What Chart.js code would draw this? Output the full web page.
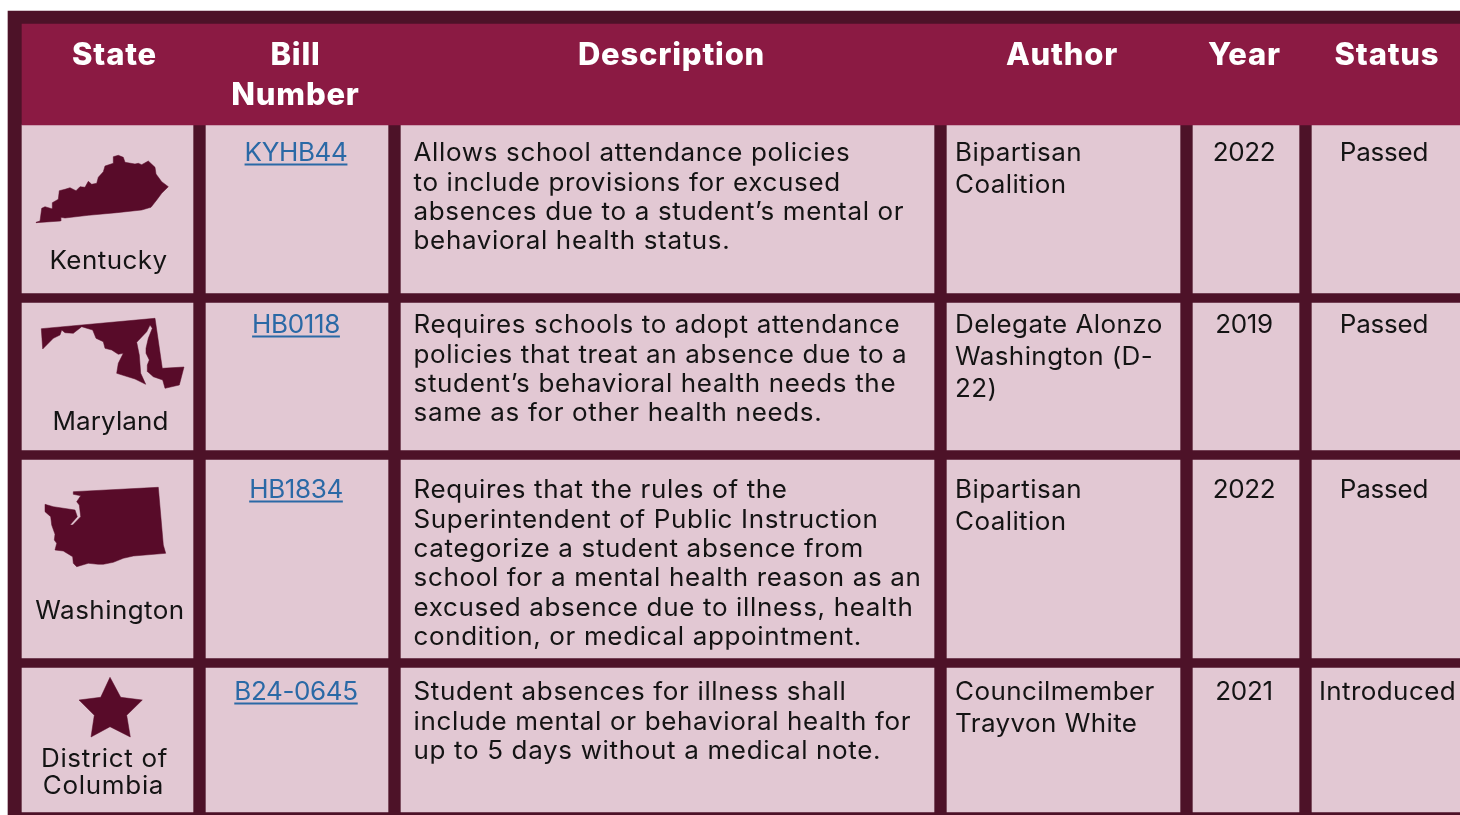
<!DOCTYPE html>
<html>
<head>
<meta charset="utf-8">
<title>State bills</title>
<script src="https://cdn.jsdelivr.net/npm/chart.js@4"></script>
<style>
html, body { margin: 0; padding: 0; background: #fff; }
canvas { display: block; }
</style>
</head>
<body>
<canvas id="tableChart" width="1460" height="815"></canvas>
<script>
// table content
const headers = [["State"], ["Bill", "Number"], ["Description"], ["Author"], ["Year"], ["Status"]];
const states = [["Kentucky"], ["Maryland"], ["Washington"], ["District of", "Columbia"]];
const billNumbers = ["KYHB44", "HB0118", "HB1834", "B24-0645"];
const descriptions = [
    ["Allows school attendance policies", "to include provisions for excused", "absences due to a student\u2019s mental or", "behavioral health status."],
    ["Requires schools to adopt attendance", "policies that treat an absence due to a", "student\u2019s behavioral health needs the", "same as for other health needs."],
    ["Requires that the rules of the", "Superintendent of Public Instruction", "categorize a student absence from", "school for a mental health reason as an", "excused absence due to illness, health", "condition, or medical appointment."],
    ["Student absences for illness shall", "include mental or behavioral health for", "up to 5 days without a medical note."]
];
const authors = [["Bipartisan", "Coalition"], ["Delegate Alonzo", "Washington (D-", "22)"], ["Bipartisan", "Coalition"], ["Councilmember", "Trayvon White"]];
const years = ["2022", "2019", "2022", "2021"];
const statuses = ["Passed", "Passed", "Passed", "Introduced"];

// grid edges
const columnLeft = [22, 206, 401, 947, 1193, 1312];
const columnRight = [193, 388, 934, 1180, 1299, 1460];
const rowTop = [125, 303, 460, 668];
const rowBottom = [293, 450, 658, 812];

// state outlines, same units as the grid
const kentuckyOutline = [[36,222.3],[40,221],[41.7,208.3],[45,206.7],[52.7,209],[52.3,202.7],[58.3,199.3],[59.3,190.7],[65,189.3],[70,187.7],[76,190.7],[80,186.7],[85,187.3],[88.3,181.3],[91.7,184.3],[96.7,183.3],[98.3,177.3],[103.3,171.7],[105,166],[113.3,163.3],[113.3,156.7],[118.3,155.3],[123.3,157.3],[125,162.3],[135,164],[138.3,163.3],[141.7,164.7],[148.3,161],[155,167.3],[156,174],[161.7,181.7],[168.3,186.7],[161.7,193.3],[156.7,200],[151,207.3],[141.7,210],[116.7,212.7],[88.3,215.3],[65,218],[60.7,217.3],[60.7,221],[36,222.7],[36,222.3]];
const marylandOutline = [[41.3,328.7],[155,318.3],[162.3,368.3],[184,367],[179.3,385],[165,388.3],[162.7,380],[153.3,376.7],[147.7,371.7],[147.3,365],[149.3,360],[146,353.3],[146,348.3],[148.3,338.3],[152.3,328.3],[150,325],[146.7,331.7],[136.7,342.3],[139.3,355],[140.7,373.3],[145.7,384.3],[135,379],[116.7,373.3],[118.3,363.3],[123.3,353.3],[118.3,354.3],[111.7,350],[105,348.3],[103.3,341.7],[96,338.3],[92.7,330],[81.7,326.7],[73.3,333.3],[65,332.7],[61.7,330],[60,335],[53.3,338.3],[42.7,349],[41.3,328.7]];
const washingtonOutline = [[73.3,491.7],[158.3,487.3],[163.3,545],[165.7,553.3],[133.3,556],[123.3,558.3],[113.3,562.3],[103.3,564.3],[98.3,564.3],[88.3,563.3],[76.7,566.7],[73.3,563.3],[72.7,556.7],[63.3,551],[55,550],[56.7,543.3],[54.3,540],[55,534.3],[51.7,525],[50.7,516.7],[45,511.7],[45,504.3],[53.3,506.7],[75,510],[77.3,516.7],[70,525],[72.7,525],[80.7,516.7],[79.3,505],[76.7,501.7],[80.7,495.7],[73.3,494.3],[73.3,491.7]];
const starOutline = [[110,677.3],[120.7,697.3],[142.3,700],[126.7,715.3],[130.3,737],[110,726.7],[91,737],[94.3,715.3],[79,700],[100.7,697.3],[110,677.3]];

const colors = {
    frame: "#4d1228",
    header: "#8b1a43",
    cell: "#e2c8d3",
    shape: "#580b29",
    text: "#141414",
    link: "#2a69a6"
};

function bar(left, right, top, bottom, color, order){
    return {
        type: "bar",
        data: [{x: (left + right) / 2, y: [top, bottom]}],
        barThickness: right - left,
        backgroundColor: color,
        borderWidth: 0,
        grouped: false,
        order: order
    };
}

function outline(points){
    return {
        type: "line",
        data: points.map(p => ({x: p[0], y: p[1]})),
        fill: "shape",
        backgroundColor: colors.shape,
        borderColor: colors.shape,
        borderWidth: 0.5,
        pointRadius: 0,
        tension: 0,
        order: 1
    };
}

let datasets = [
    bar(8, 1460, 11, 815, colors.frame, 10),
    bar(22, 1460, 24, 125, colors.header, 5)
];

columnLeft.forEach((left, c) => {
    datasets.push({
        type: "bar",
        data: rowTop.map((top, r) => ({x: (left + columnRight[c]) / 2, y: [top, rowBottom[r]]})),
        barThickness: columnRight[c] - left,
        backgroundColor: colors.cell,
        borderWidth: 0,
        grouped: false,
        order: 5
    });
});

[kentuckyOutline, marylandOutline, washingtonOutline, starOutline].forEach(p => datasets.push(outline(p)));

// baselines of the first text line in each row
const firstBaseline = [161.3, 333.3, 498.3, 700.3];
const stateBaseline = [[268.5], [430], [619], [767, 794]];
const stateCenter = [[108.5], [110.5], [110], [104.5, 103.5]];
const headerCenter = [114.5, 295.5, 671.5, 1062, 1244.5, 1387];

const billCenter = 296;
const yearCenter = 1244;
const statusCenter = [1384, 1384, 1384, 1387.5];

// Inter is narrower than the font in the picture, so body text gets stretched a little
const bodyStretch = 1.04;
const stateSpacing = [0.43, 0.1, 0.43, 0.65];
const statusSpacing = [-0.2, -0.2, -0.2, 0.4];

const bodyFont = "25px Inter";
const headerFont = "800 31px Inter";

function put(ctx, text, x, y, align, stretch){
    ctx.save();
    ctx.textAlign = align;
    ctx.translate(x, y);
    ctx.scale(stretch, 1);
    ctx.fillText(text, 0, 0);
    ctx.restore();
}

const tableText = {
    id: "tableText",
    afterDatasetsDraw(chart){
        const ctx = chart.ctx;
        const sx = chart.scales.x;
        const sy = chart.scales.y;
        ctx.save();
        ctx.textBaseline = "alphabetic";

        // header
        ctx.font = headerFont;
        ctx.letterSpacing = "0.8px";
        ctx.fillStyle = "#ffffff";
        headers.forEach((lines, c) => {
            lines.forEach((line, i) => put(ctx, line, sx.getPixelForValue(headerCenter[c]), sy.getPixelForValue(65 + i * 40), "center", 1));
        });

        // body
        ctx.font = bodyFont;
        ctx.fillStyle = colors.text;
        rowTop.forEach((top, r) => {
            ctx.letterSpacing = stateSpacing[r] + "px";
            states[r].forEach((line, i) => {
                put(ctx, line, sx.getPixelForValue(stateCenter[r][i]), sy.getPixelForValue(stateBaseline[r][i]), "center", bodyStretch);
            });

            ctx.letterSpacing = "0.63px";
            descriptions[r].forEach((line, i) => put(ctx, line, sx.getPixelForValue(413.5), sy.getPixelForValue(firstBaseline[r] + i * 29.3), "left", bodyStretch));

            ctx.letterSpacing = "0.4px";
            authors[r].forEach((line, i) => put(ctx, line, sx.getPixelForValue(955), sy.getPixelForValue(firstBaseline[r] + i * 32), "left", bodyStretch));

            ctx.letterSpacing = "-0.3px";
            put(ctx, years[r], sx.getPixelForValue(yearCenter), sy.getPixelForValue(firstBaseline[r]), "center", bodyStretch);

            ctx.letterSpacing = statusSpacing[r] + "px";
            put(ctx, statuses[r], sx.getPixelForValue(statusCenter[r]), sy.getPixelForValue(firstBaseline[r]), "center", bodyStretch);

            // bill number link with underline
            ctx.letterSpacing = "-0.35px";
            ctx.fillStyle = colors.link;
            const bx = sx.getPixelForValue(billCenter);
            const by = sy.getPixelForValue(firstBaseline[r]);
            put(ctx, billNumbers[r], bx, by, "center", bodyStretch);
            const w = ctx.measureText(billNumbers[r]).width * bodyStretch;
            ctx.fillRect(bx - w / 2, by + 2.2, w, 2);
            ctx.fillStyle = colors.text;
        });
        ctx.restore();
    }
};

new Chart(document.getElementById("tableChart"), {
    data: { datasets: datasets },
    options: {
        responsive: false,
        animation: false,
        layout: { padding: 0 },
        plugins: {
            legend: { display: false },
            tooltip: { enabled: false }
        },
        scales: {
            x: { type: "linear", min: 0, max: 1460, display: false, offset: false },
            y: { type: "linear", min: 0, max: 815, reverse: true, display: false }
        }
    },
    plugins: [tableText]
});
</script>
</body>
</html>
